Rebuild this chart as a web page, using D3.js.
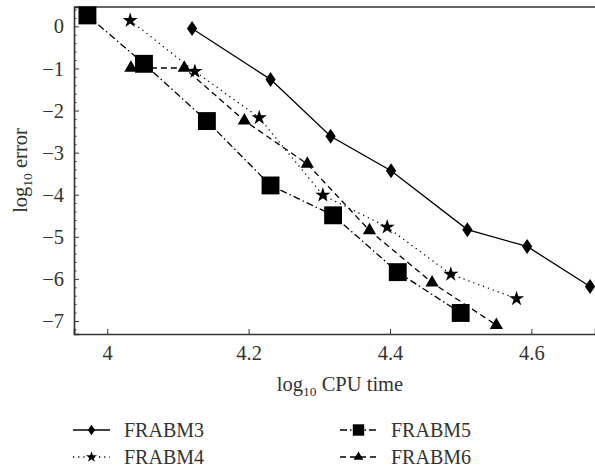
<!DOCTYPE html>
<html><head><meta charset="utf-8">
<script src="https://cdn.jsdelivr.net/npm/d3@7"></script>
<style>
body{margin:0;background:#fff;}
svg text{font-family:"Liberation Serif","DejaVu Serif",serif;fill:#333;}
</style></head>
<body><svg id="c" width="595" height="468"></svg>
<script>
// ---- data ----
const seriesNames = ["FRABM3","FRABM4","FRABM5","FRABM6"];
const frabm3X = [4.120,4.231,4.316,4.4015,4.5095,4.594,4.683];
const frabm3Y = [-0.05,-1.26,-2.61,-3.43,-4.83,-5.23,-6.18];
const frabm4X = [4.0325,4.124,4.215,4.305,4.396,4.486,4.579];
const frabm4Y = [0.14,-1.07,-2.17,-4.01,-4.77,-5.89,-6.47];
const frabm5X = [3.972,4.052,4.141,4.231,4.3195,4.411,4.500];
const frabm5Y = [0.26,-0.89,-2.25,-3.78,-4.49,-5.84,-6.81];
const frabm6X = [4.0335,4.109,4.194,4.283,4.371,4.4595,4.5505];
const frabm6Y = [-0.99,-0.99,-2.24,-3.27,-4.85,-6.09,-7.10];
const xTicks = [4,4.2,4.4,4.6];
const yTicks = [0,-1,-2,-3,-4,-5,-6,-7];

const svg = d3.select("#c");
const L=74, R=595, T=7, B=334;
const x = d3.scaleLinear().domain([3.953,4.69]).range([L,R]);
const y = d3.scaleLinear().domain([-7.31,0.46]).range([B,T]);
const ink="#333";
const serif = "Liberation Serif, DejaVu Serif, serif";

// custom tall diamond
const tallDiamond = {draw(ctx,size){const h=Math.sqrt(size)*0.75, w=h*0.68;ctx.moveTo(0,-h);ctx.lineTo(w,0);ctx.lineTo(0,h);ctx.lineTo(-w,0);ctx.closePath();}};

const series = [
 {name:seriesNames[0], xs:frabm3X, ys:frabm3Y, dash:null, sym:tallDiamond, size:100, lsize:48},
 {name:seriesNames[1], xs:frabm4X, ys:frabm4Y, dash:"1.2,4", sym:d3.symbolStar, size:72, lsize:38},
 {name:seriesNames[2], xs:frabm5X, ys:frabm5Y, dash:"7,3,1.5,3", sym:d3.symbolSquare, size:320, lsize:130},
 {name:seriesNames[3], xs:frabm6X, ys:frabm6Y, dash:"6,4", sym:d3.symbolTriangle, size:76, lsize:40}
];

// axes
const fmt = d => (d<0?"\u2212":"")+Math.abs(d);
const gx = svg.append("g").attr("transform",`translate(0,${B})`)
  .call(d3.axisBottom(x).tickValues(xTicks).tickSize(-5).tickPadding(11).tickFormat(d=>d3.format("")(d)));
const gy = svg.append("g").attr("transform",`translate(${L},0)`)
  .call(d3.axisLeft(y).tickValues(yTicks).tickSize(-5).tickPadding(10).tickFormat(fmt));
const minor = d3.range(-36,3).map(i=>i*0.2).filter(v=>Math.abs(v-Math.round(v))>1e-6);
svg.append("g").attr("transform",`translate(${L},0)`)
  .call(d3.axisLeft(y).tickValues(minor).tickSize(-2.5).tickFormat(""))
  .call(g=>g.select(".domain").remove());
[gx,gy].forEach(g=>{
  g.attr("font-family",serif).attr("font-size",20.5);
  g.select(".domain").attr("stroke",ink).attr("stroke-width",1.6);
  g.selectAll(".tick text").attr("fill",ink);
});
svg.selectAll(".tick line").attr("stroke",ink);
svg.append("line").attr("x1",L).attr("x2",R).attr("y1",T).attr("y2",T).attr("stroke",ink).attr("stroke-width",1.6);

// series
const line = d3.line().x(d=>x(d[0])).y(d=>y(d[1]));
series.forEach(s=>{
  const pts = s.xs.map((v,i)=>[v,s.ys[i]]);
  svg.append("path").datum(pts).attr("d",line).attr("fill","none")
    .attr("stroke","#000").attr("stroke-width",1.3).attr("stroke-dasharray",s.dash);
  svg.append("g").selectAll("path").data(pts).join("path")
    .attr("d",d3.symbol(s.sym,s.size)).attr("transform",d=>`translate(${x(d[0])},${y(d[1])})`).attr("fill","#000");
});

// axis labels
const xl = svg.append("text").attr("x",340).attr("y",391).attr("text-anchor","middle").attr("font-size",20.5);
xl.append("tspan").text("log");
xl.append("tspan").attr("font-size",13.5).attr("dy",5).text("10");
xl.append("tspan").attr("dy",-5).text(" CPU time");
const yl = svg.append("text").attr("transform","translate(27,170.5) rotate(-90)").attr("text-anchor","middle").attr("font-size",20.5);
yl.append("tspan").text("log");
yl.append("tspan").attr("font-size",13.5).attr("dy",5).text("10");
yl.append("tspan").attr("dy",-5).text(" error");

// legend
const legPos = [[73,430],[73,457],[340,430],[340,457]];
series.forEach((s,i)=>{
  const [lx,ly]=legPos[i];
  const g = svg.append("g");
  g.append("line").attr("x1",lx).attr("x2",lx+37).attr("y1",ly).attr("y2",ly)
    .attr("stroke","#000").attr("stroke-width",1.3).attr("stroke-dasharray",s.dash);
  g.append("path").attr("d",d3.symbol(s.sym,s.lsize)).attr("transform",`translate(${lx+18.5},${ly})`).attr("fill","#000");
  g.append("text").attr("x",lx+51).attr("y",ly+6.5).attr("font-size",20).text(s.name);
});
</script></body></html>
